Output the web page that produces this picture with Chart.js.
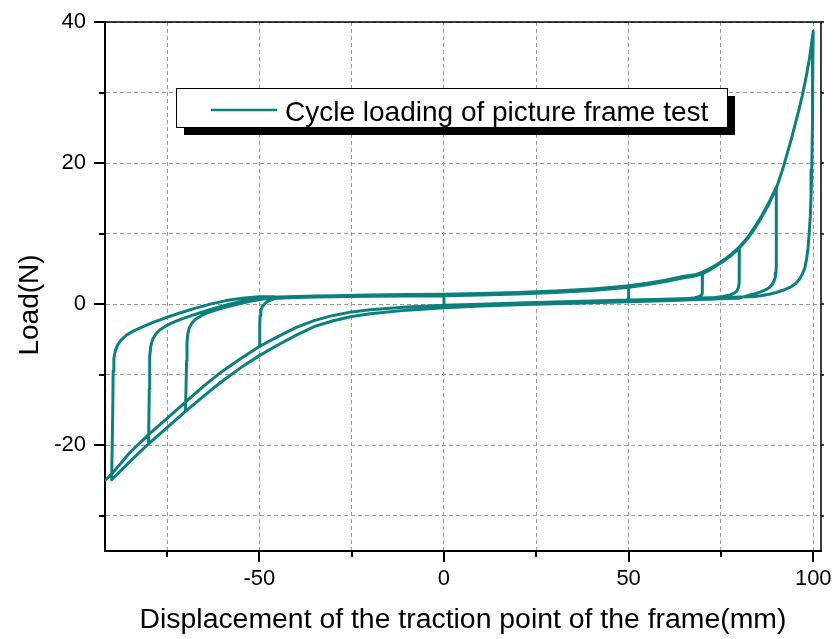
<!DOCTYPE html>
<html>
<head>
<meta charset="utf-8">
<script src="https://cdn.jsdelivr.net/npm/chart.js@4/dist/chart.umd.min.js"></script>
<style>
  html, body { margin: 0; padding: 0; background: #fff; }
  #wrap { width: 833px; height: 639px; position: relative; }
</style>
</head>
<body>
<div id="wrap"><canvas id="c"></canvas></div>
<script>
// ---------------- data ----------------
const seriesName = 'Cycle loading of picture frame test';
const xTitle = 'Displacement of the traction point of the frame(mm)';
const yTitle = 'Load(N)';

// axis ticks
const xTickValues = [-75, -50, -25, 0, 25, 50, 75, 100];
const yTickValues = [-30, -20, -10, 0, 10, 20, 30, 40];
const xLabelled = [-50, 0, 50, 100];
const yLabelled = [-20, 0, 20, 40];

// start of the test
const startX = [0, 0];
const startY = [-0.15, 1.2];

// loading branch towards positive displacement (two edges of the band)
const upX  = [-45, -40, -35, -30, -20, -10, 0, 10, 20, 30, 40, 45, 50, 55, 60, 65, 68, 70, 72, 74, 76, 78, 80, 82, 84, 86, 88, 90, 92, 94, 96, 97, 98, 99, 100];
const upYa = [1.0, 1.1, 1.15, 1.2, 1.3, 1.35, 1.4, 1.5, 1.65, 1.85, 2.15, 2.35, 2.6, 2.95, 3.4, 3.95, 4.15, 4.55, 5.05, 5.65, 6.35, 7.15, 8.1, 9.3, 10.8, 12.5, 14.4, 16.6, 20.0, 23.8, 27.8, 30.0, 32.5, 35.3, 38.7];
const upYb = [0.85, 0.95, 1.0, 1.05, 1.1, 1.15, 1.2, 1.3, 1.45, 1.65, 1.95, 2.15, 2.4, 2.75, 3.2, 3.75, 4.0, 4.3, 4.85, 5.5, 6.2, 7.0, 7.95, 9.15, 10.6, 12.3, 14.2, 16.4, 19.6, 23.3, 27.3, 29.5, 32.0, 34.9, 38.7];

// loading branch towards negative displacement (two edges of the band)
const lowX  = [80, 76, 72, 68, 64, 57, 50, 40, 30, 20, 10, 0, -10, -20, -25, -30, -35, -40, -45, -50, -55, -60, -65, -70, -75, -80, -85, -90, -91.8];
const lowYa = [1.0, 0.95, 0.9, 0.85, 0.75, 0.65, 0.6, 0.45, 0.3, 0.15, 0.0, -0.15, -0.4, -0.8, -1.1, -1.6, -2.3, -3.3, -4.6, -6.0, -7.7, -9.5, -11.6, -13.9, -16.2, -18.5, -21.0, -24.1, -25.0];
const lowYb = [0.85, 0.8, 0.7, 0.65, 0.55, 0.45, 0.35, 0.2, 0.05, -0.1, -0.25, -0.5, -0.85, -1.35, -1.75, -2.35, -3.15, -4.4, -5.8, -7.3, -9.0, -10.9, -13.0, -15.2, -17.5, -19.8, -22.3, -24.9, -25.9];

// unloading from the positive peaks
const u50X  = [50, 49.7, 48.8];
const u50Y  = [0.9, 0.6, 0.55];
const u70X  = [70, 69.9, 69.6, 69.0, 68.0, 66.5];
const u70Y  = [2.4, 1.5, 1.2, 1.05, 0.92, 0.8];
const u80X  = [80, 79.9, 79.7, 79.3, 78.6, 77.5, 75.5, 73.5];
const u80Y  = [4.5, 3.0, 2.3, 1.85, 1.55, 1.3, 1.1, 0.95];
const u90X  = [90, 90, 89.9, 89.7, 89.4, 88.9, 88.2, 87.2, 85.6, 84.0, 82.5];
const u90Y  = [12, 5.5, 4.4, 3.8, 3.3, 2.8, 2.4, 2.05, 1.7, 1.45, 1.25];
const u100X = [99.9, 99.8, 99.6, 99.4, 99.2, 98.9, 98.6, 98.2, 97.7, 97.0, 96.2, 95.2, 93.8, 92.0, 90.0, 88.0, 85.8, 83.5];
const u100Y = [35, 26, 19.0, 15.2, 12.4, 10.0, 8.0, 6.4, 5.1, 4.2, 3.5, 2.9, 2.4, 2.0, 1.65, 1.4, 1.2, 1.05];

// unloading from the negative peaks
const r50X = [-49.9, -49.8, -49.6, -49.2, -48.5, -47.4, -45.8, -43.6, -40.5];
const r50Y = [-3.0, -1.6, -0.9, -0.35, 0.1, 0.5, 0.8, 1.0, 1.05];
const r70X = [-69.7, -69.6, -69.4, -69.0, -68.3, -67.2, -65.6, -63.6, -61.2, -58.5, -55.5, -52.5, -49.5, -46];
const r70Y = [-8.0, -5.5, -4.3, -3.4, -2.7, -2.1, -1.6, -1.15, -0.75, -0.35, 0.05, 0.4, 0.7, 0.9];
const r80X = [-79.8, -79.7, -79.4, -78.9, -78.0, -76.8, -75.2, -73.2, -70.8, -68.0, -65.0, -61.8, -58.4, -54.8, -50.5, -46];
const r80Y = [-12, -7.4, -6.0, -5.0, -4.2, -3.6, -3.05, -2.55, -2.05, -1.55, -1.05, -0.55, -0.05, 0.4, 0.8, 1.0];
const r90X = [-89.7, -89.6, -89.4, -89.0, -88.3, -87.3, -85.9, -84.0, -81.5, -78.6, -75.2, -71.5, -67.5, -63.3, -59.0, -54.6, -50.2, -46];
const r90Y = [-15, -9.5, -7.7, -6.6, -5.7, -5.0, -4.35, -3.8, -3.2, -2.55, -1.9, -1.25, -0.6, 0.0, 0.5, 0.85, 1.05, 1.05];

// ---------------- build the path ----------------
function pts(xs, ys) { return xs.map((x, i) => ({ x: x, y: ys[i] })); }
function upSeg(ys, from, to) { return pts(upX, ys).filter(p => p.x > from && p.x <= to); }
function lowSeg(ys, from, to) { return pts(lowX, ys).filter(p => p.x < from && p.x >= to); }

const path = [].concat(
  pts(startX, startY),
  upSeg(upYb, 0, 50), pts(u50X, u50Y), lowSeg(lowYa, 48.8, -50), pts(r50X, r50Y),
  upSeg(upYb, -40.5, 70), pts(u70X, u70Y), lowSeg(lowYb, 66.5, -70), pts(r70X, r70Y),
  upSeg(upYa, -46, 80), pts(u80X, u80Y), lowSeg(lowYb, 73.5, -80), pts(r80X, r80Y),
  upSeg(upYa, -46, 90), pts(u90X, u90Y), lowSeg(lowYb, 82.5, -90), pts(r90X, r90Y),
  upSeg(upYb, -46, 100), pts(u100X, u100Y), lowSeg(lowYa, 83.5, -91.8)
);

// ---------------- drawing ----------------
const FONT = "'Liberation Sans', Arial, sans-serif";
const TEAL = '#0b807d';

const framePlugin = {
  id: 'frame',
  afterDraw(chart) {
    const ctx = chart.ctx;
    const a = chart.chartArea;
    const xs = chart.scales.x, ys = chart.scales.y;
    ctx.save();
    ctx.strokeStyle = '#000';
    // top and right frame
    ctx.lineWidth = 1.5;
    ctx.beginPath();
    ctx.moveTo(a.left, a.top); ctx.lineTo(a.right, a.top); ctx.lineTo(a.right, a.bottom);
    ctx.stroke();
    // tick marks
    ctx.lineWidth = 2;
    xTickValues.forEach(v => {
      const px = Math.round(xs.getPixelForValue(v));
      const len = xLabelled.includes(v) ? 11 : 6;
      ctx.beginPath(); ctx.moveTo(px, a.bottom); ctx.lineTo(px, a.bottom + len); ctx.stroke();
    });
    yTickValues.forEach(v => {
      const py = Math.round(ys.getPixelForValue(v));
      const len = yLabelled.includes(v) ? 11 : 6;
      ctx.lineWidth = 2;
      ctx.beginPath(); ctx.moveTo(a.left - len, py); ctx.lineTo(a.left, py); ctx.stroke();
      ctx.lineWidth = 1.5;
      ctx.beginPath(); ctx.moveTo(a.right, py); ctx.lineTo(a.right + 3, py); ctx.stroke();
    });
    // y title
    ctx.fillStyle = '#000';
    ctx.font = '28px ' + FONT;
    ctx.translate(38, 305);
    ctx.rotate(-Math.PI / 2);
    ctx.textAlign = 'center';
    ctx.textBaseline = 'alphabetic';
    ctx.fillText(yTitle, 0, 0);
    ctx.restore();

    // legend with shadow
    ctx.save();
    const bx = a.left + 71, by = a.top + 66, bw = 551, bh = 39;
    ctx.fillStyle = '#000';
    ctx.fillRect(bx + 8, by + 8, bw, bh);
    ctx.fillStyle = '#fff';
    ctx.fillRect(bx, by, bw, bh);
    ctx.strokeStyle = '#000';
    ctx.lineWidth = 1;
    ctx.strokeRect(bx + 0.5, by + 0.5, bw, bh);
    ctx.strokeStyle = TEAL;
    ctx.lineWidth = 2.5;
    ctx.beginPath(); ctx.moveTo(bx + 35, by + 22); ctx.lineTo(bx + 101, by + 22); ctx.stroke();
    ctx.fillStyle = '#000';
    ctx.font = '28px ' + FONT;
    ctx.textAlign = 'left';
    ctx.textBaseline = 'alphabetic';
    ctx.fillText(seriesName, bx + 109, by + 33);
    ctx.restore();
  }
};

new Chart(document.getElementById('c'), {
  type: 'scatter',
  data: {
    datasets: [{
      label: seriesName,
      data: path,
      showLine: true,
      borderColor: TEAL,
      backgroundColor: TEAL,
      borderWidth: 3,
      pointRadius: 0,
      tension: 0,
      borderJoinStyle: 'round',
      borderCapStyle: 'round'
    }]
  },
  options: {
    responsive: true,
    maintainAspectRatio: false,
    animation: false,
    events: [],
    layout: { padding: { left: 0, top: 22, right: 12, bottom: 0 } },
    plugins: { legend: { display: false }, tooltip: { enabled: false } },
    scales: {
      x: {
        type: 'linear',
        min: -91.8,
        max: 102.1,
        afterFit(scale) {
          scale.height = 88;
          scale.paddingLeft = 0; scale.paddingRight = 0;
          scale.paddingTop = 0; scale.paddingBottom = 0;
        },
        afterBuildTicks(scale) { scale.ticks = xTickValues.map(v => ({ value: v })); },
        ticks: {
          padding: 15,
          color: '#000',
          font: { family: FONT, size: 22 },
          maxRotation: 0,
          autoSkip: false,
          callback: v => xLabelled.includes(v) ? String(v) : ''
        },
        grid: { color: '#9a9a9a', lineWidth: 1, drawTicks: false },
        border: { display: true, color: '#000', width: 2, dash: [4, 3] },
        title: {
          display: true,
          text: xTitle,
          color: '#000',
          font: { family: FONT, size: 28.4 },
          padding: { top: 0, bottom: 2 }
        }
      },
      y: {
        type: 'linear',
        min: -35,
        max: 40,
        afterFit(scale) {
          scale.width = 105;
          scale.paddingLeft = 0; scale.paddingRight = 0;
          scale.paddingTop = 0; scale.paddingBottom = 0;
        },
        afterBuildTicks(scale) { scale.ticks = yTickValues.map(v => ({ value: v })); },
        ticks: {
          padding: 19,
          color: '#000',
          font: { family: FONT, size: 22 },
          autoSkip: false,
          callback: v => yLabelled.includes(v) ? String(v) : ''
        },
        grid: { color: '#9a9a9a', lineWidth: 1, drawTicks: false },
        border: { display: true, color: '#000', width: 2, dash: [4, 3] }
      }
    }
  },
  plugins: [framePlugin]
});
</script>
</body>
</html>
